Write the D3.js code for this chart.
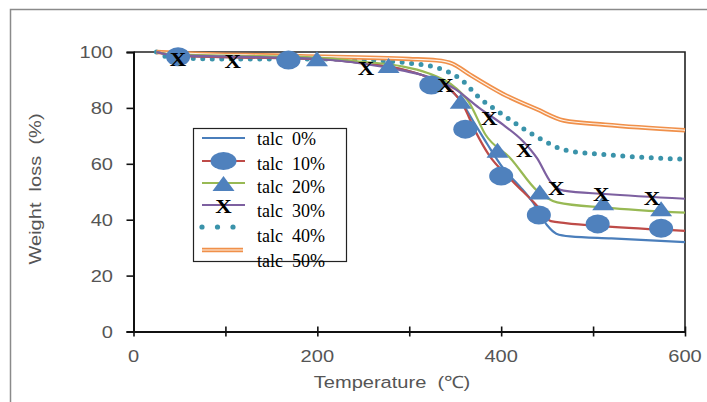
<!DOCTYPE html>
<html>
<head>
<meta charset="utf-8">
<script src="https://cdn.jsdelivr.net/npm/d3@7"></script>
<style>
  body { margin: 0; background: #fff; }
  svg { display: block; }
</style>
</head>
<body>
<script>
// Curves: [temperature (C), weight (%)]
const talc0 = [[25,100],[40,99],[60,98.5],[100,98.2],[200,97.5],[250,96],[290,94],[320,91],[340,87.5],[355,83],[370,75],[385,67],[402,58.5],[420,52],[435,46],[450,38],[460,35],[475,34],[520,33.3],[600,32]];
const talc10 = [[25,100],[40,99],[60,98.5],[100,98.2],[200,97.5],[250,96],[290,94],[320,91],[347,86],[358,81.3],[372,71.6],[387,63],[410,54.6],[439,45],[454,39.5],[470,38.8],[513,37.6],[600,36]];
const talc20 = [[25,100],[40,99.2],[100,98.7],[200,98],[250,96.5],[290,95],[320,92.5],[350,87.3],[365,82],[383,70.4],[410,62],[439,50.4],[461,46.2],[513,44.3],[600,42.5]];
const talc30 = [[25,100],[40,99],[100,98.4],[200,97.5],[250,95.8],[292,93.4],[328,90.3],[350,86.7],[376,80],[402,74],[424,68],[439,62],[454,53.4],[468,50.4],[513,49.2],[600,47.5]];
const talc40 = [[25,100],[40,98],[100,97.5],[200,97.5],[266,97],[300,96],[325,94.8],[343,92.8],[356,90.3],[376,83.7],[399,78.2],[424,72.6],[448,68],[468,65],[513,63.3],[600,61.6]];
const talc50 = [[25,100],[60,99.5],[181,98.5],[300,97.5],[330,97],[347,95.8],[365,92.1],[402,85],[439,79.5],[468,75.5],[513,74],[600,72]];

// Marker points
const circle_pts = [[48.5,98.3],[168.6,97.1],[324,88.2],[361,72.4],[400,55.6],[441,41.7],[505,38.5],[574,36.9]];
const triangle_pts = [[199.6,97.4],[277.5,95],[356,82.2],[396,64.7],[442,49.7],[511,45.9],[574,43.7]];
const x_pts = [[48.5,97.4],[108,96.4],[253,93.9],[339.5,87.9],[387,76.3],[425,64.7],[460,51.2],[509,48.8],[564,47.4]];

const legend_labels = ["talc  0%", "talc  10%", "talc  20%", "talc  30%", "talc  40%", "talc  50%"];
const x_ticks = [0, 100, 200, 300, 400, 500, 600];
const x_tick_labels = [0, 200, 400, 600];
const y_ticks = [0, 20, 40, 60, 80, 100];

/* Dimensions */
const WIDTH = 707, HEIGHT = 402;
const PLOT_LEFT = 133.5, PLOT_RIGHT = 685, PLOT_TOP = 52, PLOT_BOTTOM = 331.5;

// Colours
const BLUE = "#4a7ebb", RED = "#be4b48", GREEN = "#98b954", PURPLE = "#7d60a0";
const TEAL = "#3a93aa", ORANGE = "#f0904a", MARKER = "#4f81bd";
const AXIS_TEXT = "#555";

const x = d3.scaleLinear().domain([0, 600]).range([PLOT_LEFT, PLOT_RIGHT]);
const y = d3.scaleLinear().domain([0, 100]).range([PLOT_BOTTOM, PLOT_TOP]);

const svg = d3.select("body").append("svg")
  .attr("width", WIDTH)
  .attr("height", HEIGHT);

// Outer frame (only top and left edges show)
svg.append("path")
  .attr("d", `M10.5,${HEIGHT} V9.5 H${WIDTH}`)
  .attr("fill", "none")
  .attr("stroke", "#8a8a8a")
  .attr("stroke-width", 1.5);

// Plot frame
svg.append("path")
  .attr("d", `M${PLOT_LEFT},${PLOT_TOP} H${PLOT_RIGHT} V${PLOT_BOTTOM}`)
  .attr("fill", "none")
  .attr("stroke", "#222")
  .attr("stroke-width", 1.6);

// Axes
const x_axis = svg.append("g")
  .attr("transform", `translate(0,${PLOT_BOTTOM})`)
  .call(d3.axisBottom(x).tickValues(x_ticks).tickSize(0).tickFormat(""));
x_axis.select(".domain").attr("stroke", "#111").attr("stroke-width", 2);
x_axis.selectAll(".tick").append("line")
  .attr("y1", -5).attr("y2", 5)
  .attr("stroke", "#111").attr("stroke-width", 1.6);

const y_axis = svg.append("g")
  .attr("transform", `translate(${PLOT_LEFT},0)`)
  .call(d3.axisLeft(y).tickValues(y_ticks).tickSize(7).tickFormat(""));
y_axis.select(".domain").attr("stroke", "#111").attr("stroke-width", 2);
y_axis.selectAll(".tick line").attr("stroke", "#111").attr("stroke-width", 1.6);

// Tick labels (slightly stretched horizontally, like the source)
function stretched_text(g, px, py, str, anchor, size, rot) {
  g.append("g")
    .attr("transform", `translate(${px},${py})` + (rot ? ` rotate(${rot})` : ""))
    .append("text")
    .attr("transform", "scale(1.18,1)")
    .attr("text-anchor", anchor)
    .attr("dy", "0.36em")
    .attr("fill", AXIS_TEXT)
    .style("font-family", "'Liberation Sans', Arial, sans-serif")
    .style("font-size", size + "px")
    .style("white-space", "pre")
    .text(str);
}
const labels = svg.append("g");
x_tick_labels.forEach(d => stretched_text(labels, x(d), 356, d, "middle", 17));
y_ticks.forEach(d => stretched_text(labels, 113, y(d), d, "end", 17));
stretched_text(labels, 392, 382, "Temperature  (℃)", "middle", 17);
stretched_text(labels, 35, 189, "Weight  loss  (%)", "middle", 17, -90);

// Curves
const line = d3.line()
  .x(d => x(d[0]))
  .y(d => y(d[1]))
  .curve(d3.curveMonotoneX);

const curves = svg.append("g");
// talc 40%: dotted teal
curves.append("path")
  .attr("d", line(talc40))
  .attr("fill", "none")
  .attr("stroke", TEAL)
  .attr("stroke-width", 5)
  .attr("stroke-linecap", "round")
  .attr("stroke-dasharray", "0 9.5");
// talc 50%: double orange line
curves.append("path")
  .attr("d", line(talc50))
  .attr("fill", "none")
  .attr("stroke", ORANGE)
  .attr("stroke-width", 4.5);
curves.append("path")
  .attr("d", line(talc50))
  .attr("fill", "none")
  .attr("stroke", "#fdf3ea")
  .attr("stroke-width", 1.2);
[[talc0, BLUE], [talc10, RED], [talc20, GREEN], [talc30, PURPLE]].forEach(s => {
  curves.append("path")
    .attr("d", line(s[0]))
    .attr("fill", "none")
    .attr("stroke", s[1])
    .attr("stroke-width", 2.2);
});

// Markers
const triangle = "M0,-8 L11,7 L-11,7 Z";
function draw_x(g, px, py) {
  g.append("g")
    .attr("transform", `translate(${px},${py})`)
    .append("text")
    .attr("class", "xmark")
    .attr("transform", "scale(1.2,1)")
    .attr("text-anchor", "middle")
    .attr("dy", "0.33em")
    .attr("fill", "#000")
    .style("font-family", "'Liberation Serif', 'Times New Roman', serif")
    .style("font-weight", "bold")
    .style("font-size", "19px")
    .text("X");
}

const markers = svg.append("g");
markers.selectAll("ellipse.pt")
  .data(circle_pts)
  .enter()
  .append("ellipse")
  .attr("class", "pt")
  .attr("cx", d => x(d[0]))
  .attr("cy", d => y(d[1]))
  .attr("rx", 12)
  .attr("ry", 9.5)
  .attr("fill", MARKER);
markers.selectAll("path.pt")
  .data(triangle_pts)
  .enter()
  .append("path")
  .attr("class", "pt")
  .attr("d", triangle)
  .attr("transform", d => `translate(${x(d[0])},${y(d[1])})`)
  .attr("fill", MARKER);
x_pts.forEach(d => draw_x(markers, x(d[0]), y(d[1])));

// Legend
const LEG_X = 193.5, LEG_Y = 128.5, LEG_W = 153, LEG_H = 133;
const SYM_Y = [138, 161, 183, 205, 227, 250];
const TEXT_Y = [145, 170, 193, 217, 242, 267];
const SYM_X0 = 202, SYM_X1 = 245, SYM_MID = 223.5;

const legend = svg.append("g");
legend.append("rect")
  .attr("x", LEG_X).attr("y", LEG_Y)
  .attr("width", LEG_W).attr("height", LEG_H)
  .attr("fill", "#fff")
  .attr("stroke", "#222")
  .attr("stroke-width", 1.2);

[BLUE, RED, GREEN, PURPLE].forEach((c, i) => {
  legend.append("line")
    .attr("x1", SYM_X0).attr("x2", SYM_X1)
    .attr("y1", SYM_Y[i]).attr("y2", SYM_Y[i])
    .attr("stroke", c).attr("stroke-width", 2.2);
});
legend.append("ellipse")
  .attr("cx", SYM_MID).attr("cy", SYM_Y[1])
  .attr("rx", 13).attr("ry", 9)
  .attr("fill", MARKER);
legend.append("path")
  .attr("d", triangle)
  .attr("transform", `translate(${SYM_MID},${SYM_Y[2] + 1})`)
  .attr("fill", MARKER);
draw_x(legend, SYM_MID, SYM_Y[3] + 2);
legend.selectAll("circle.dot")
  .data([202, 217.5, 233])
  .enter()
  .append("circle")
  .attr("class", "dot")
  .attr("cx", d => d)
  .attr("cy", SYM_Y[4])
  .attr("r", 2.6)
  .attr("fill", TEAL);
legend.append("line")
  .attr("x1", SYM_X0).attr("x2", SYM_X1 - 2)
  .attr("y1", SYM_Y[5]).attr("y2", SYM_Y[5])
  .attr("stroke", ORANGE).attr("stroke-width", 4.5);
legend.append("line")
  .attr("x1", SYM_X0).attr("x2", SYM_X1 - 2)
  .attr("y1", SYM_Y[5]).attr("y2", SYM_Y[5])
  .attr("stroke", "#fdf3ea").attr("stroke-width", 1.2);

legend.selectAll("text.label")
  .data(legend_labels)
  .enter()
  .append("text")
  .attr("class", "label")
  .attr("x", 257)
  .attr("y", (d, i) => TEXT_Y[i])
  .attr("fill", "#000")
  .style("font-family", "'Liberation Serif', 'Times New Roman', serif")
  .style("font-size", "18px")
  .style("white-space", "pre")
  .text(d => d);
</script>
</body>
</html>
